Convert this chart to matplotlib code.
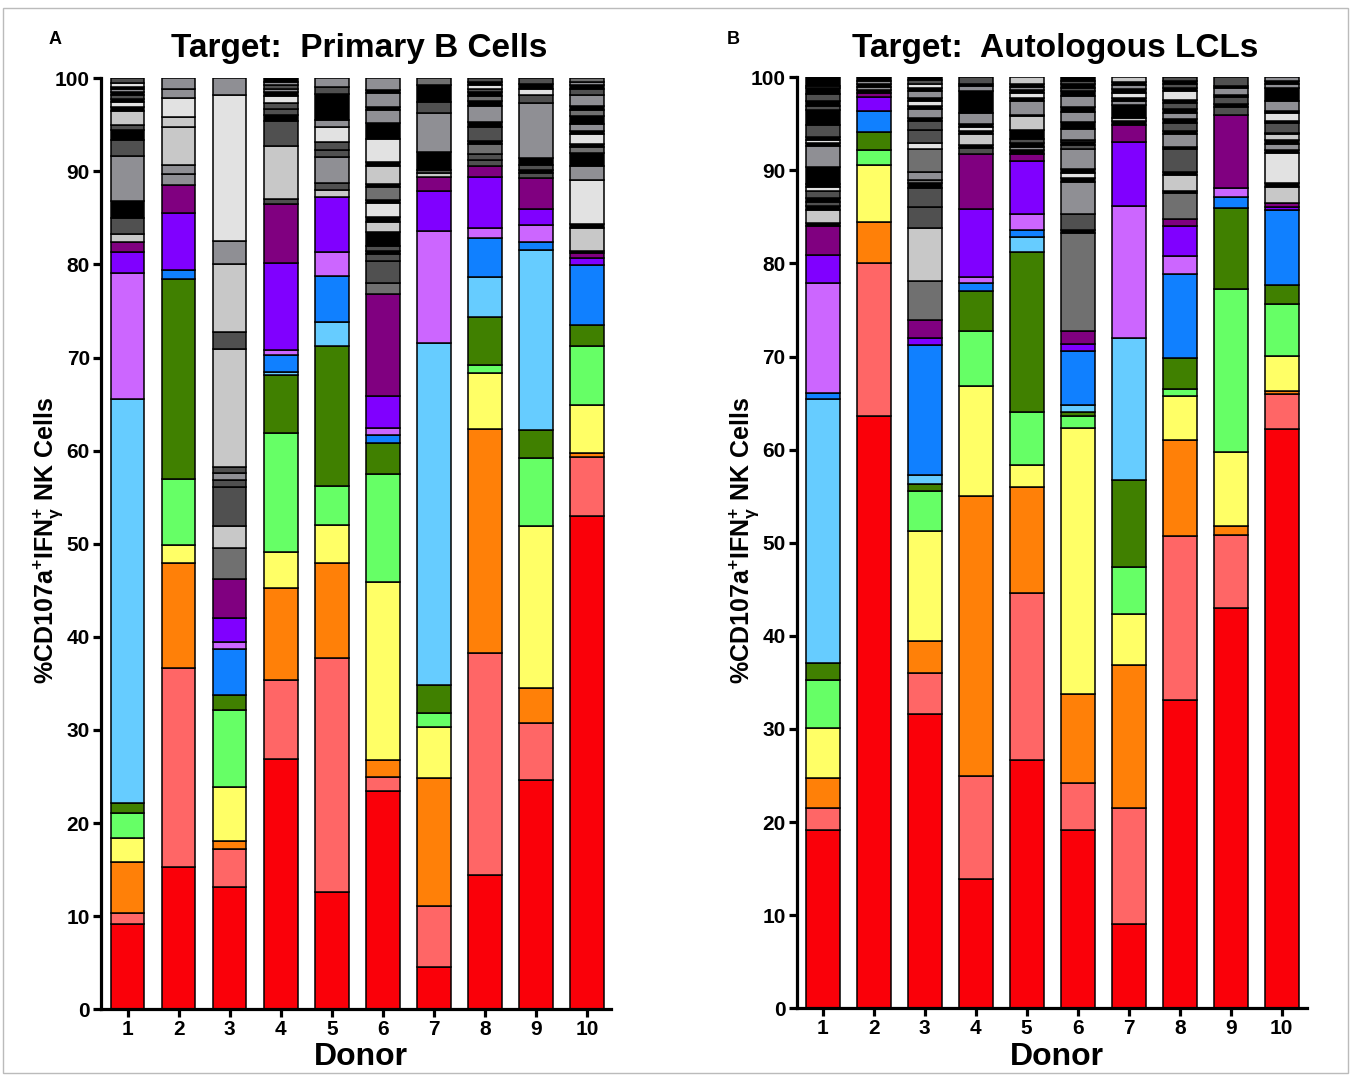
import matplotlib
matplotlib.use('Agg')
import matplotlib.pyplot as plt
import numpy as np

plt.rcParams['font.family'] = ['Liberation Sans', 'DejaVu Sans']
plt.rcParams['font.weight'] = 'bold'
plt.rcParams['mathtext.fontset'] = 'custom'
plt.rcParams['mathtext.rm'] = 'Liberation Sans:bold'
plt.rcParams['mathtext.bf'] = 'Liberation Sans:bold'
plt.rcParams['mathtext.it'] = 'Liberation Sans:bold'
plt.rcParams['mathtext.default'] = 'bf'

donors = np.arange(1, 11)

# colour of each clonal subset, bottom to top of a stack
subset_colors = ['#FA0009', '#FF6666', '#FF8008', '#FFFF66', '#66FF66', '#408000',
                 '#66CCFF', '#1080FF', '#CC66FF', '#8000FF', '#800080']
grey_colors = {'K': '#000000', 'D': '#505050', 'M': '#707070',
               'G': '#8F8F94', 'L': '#C8C8C8', 'W': '#E2E2E2'}

# ---- A: target primary B cells ----
pb_red = [9.2, 15.3, 13.15, 26.85, 12.6, 23.5, 4.5, 14.4, 24.6, 52.95]
pb_salmon = [1.1, 21.4, 4.1, 8.5, 25.1, 1.5, 6.55, 23.9, 6.2, 6.35]
pb_orange = [5.5, 11.2, 0.8, 9.85, 10.2, 1.8, 13.75, 24.0, 3.75, 0.4]
pb_yellow = [2.65, 1.95, 5.85, 3.95, 4.1, 19.1, 5.55, 6.0, 17.35, 5.2]
pb_lgreen = [2.65, 7.1, 8.2, 12.7, 4.2, 11.55, 1.5, 0.9, 7.35, 6.3]
pb_dgreen = [1.1, 21.45, 1.65, 6.25, 15.05, 3.35, 2.95, 5.2, 2.95, 2.35]
pb_lblue = [43.3, 0, 0, 0.3, 2.55, 0, 36.8, 4.3, 19.4, 0]
pb_blue = [0, 1.0, 4.95, 1.9, 5.0, 0.9, 0, 4.2, 0.8, 6.35]
pb_lilac = [13.6, 0, 0.75, 0.5, 2.55, 0.7, 12.0, 1.0, 1.85, 0]
pb_violet = [2.2, 6.1, 2.55, 9.4, 5.95, 3.5, 4.3, 5.5, 1.75, 0.8]
pb_purple = [1.1, 3.0, 4.2, 6.25, 0, 10.9, 1.5, 1.2, 3.25, 0.5]
# small clones (grey shades) on top of each bar
pb_grey = [
    "L0.9 D1.7 K1.85 G4.85 D1.7 K1.0 D0.6 L1.5 K0.4 W0.6 K0.3 D0.4 K0.3 G0.3 K0.3 W0.4 D0.5",
    "G1.2 G1.0 L4.1 L1.0 W2.1 G1.0 G1.1",
    "M3.3 L2.4 D4.2 D0.7 G0.8 D0.7 L12.6 D1.8 L7.35 G2.45 W15.7 G1.8",
    "D0.55 L5.7 D2.7 K0.65 D0.65 D0.6 W0.8 K0.4 G0.4 D0.4 G0.3 K0.4",
    "L0.7 D0.8 G2.7 D0.85 D0.85 W1.55 G0.75 K2.8 D0.75 G0.95",
    "M1.2 D2.4 D0.7 K0.4 D0.5 K1.5 L1.1 K0.5 W1.5 K0.3 M1.4 K0.3 L2.0 K0.4 W2.5 K1.7 G1.4 K0.3 G1.5 K0.3 G1.3",
    "L0.4 D0.4 K1.9 G4.2 D1.2 K1.8 M0.7",
    "D0.6 D0.7 M1.0 K0.4 D1.5 K0.5 G1.7 K0.6 M0.5 K0.4 D0.4 W0.4 K0.3 D0.4",
    "D0.55 K0.4 D0.5 K0.7 G6.0 D0.8 W0.6 K0.6 D0.6",
    "K0.3 L2.4 K0.5 W4.7 G1.5 K1.4 M0.6 K0.3 W1.1 K0.3 G0.8 K0.9 M0.6 K0.4 G1.2 D0.7 K0.4 G0.3 M0.4",
]

# ---- B: target autologous LCLs ----
lcl_red = [19.1, 63.6, 31.6, 13.9, 26.65, 19.1, 9.1, 33.1, 43.0, 62.2]
lcl_salmon = [2.4, 16.4, 4.4, 11.0, 18.0, 5.1, 12.4, 17.6, 7.85, 3.8]
lcl_orange = [3.2, 4.5, 3.45, 30.1, 11.3, 9.55, 15.4, 10.3, 0.95, 0.3]
lcl_yellow = [5.4, 6.1, 11.85, 11.8, 2.45, 28.6, 5.5, 4.8, 7.9, 3.8]
lcl_lgreen = [5.15, 1.6, 4.3, 5.9, 5.7, 1.25, 4.95, 0.7, 17.6, 5.6]
lcl_dgreen = [1.8, 1.9, 0.7, 4.35, 17.1, 0.4, 9.35, 3.3, 8.7, 2.0]
lcl_lblue = [28.35, 0, 1.0, 0, 1.6, 0.8, 15.25, 0, 0, 0]
lcl_blue = [0.7, 2.3, 13.9, 0.85, 0.8, 5.8, 0, 9.1, 1.1, 8.0]
lcl_lilac = [11.8, 0, 0, 0.7, 1.7, 0, 14.25, 1.9, 1.0, 0]
lcl_violet = [3.0, 1.5, 0.75, 7.3, 5.7, 0.75, 6.8, 3.2, 0, 0.4]
lcl_purple = [3.1, 0.4, 1.95, 5.9, 0.75, 1.35, 1.9, 0.75, 7.8, 0.35]
lcl_grey = [
    "K0.4 L1.3 K0.5 D0.4 K0.4 D0.8 W0.4 K0.3 K1.9 G2.2 K0.3 W0.4 K0.3 D1.3 K1.6 D0.4 K0.6 D0.7 K0.6 D0.3 K0.9",
    "K0.3 G0.4 K0.3 G0.3 K0.4",
    "M4.25 L5.7 D2.25 D2.0 K0.6 M0.3 G0.8 M2.5 W0.6 D1.4 D1.0 K0.3 G1.0 K0.3 W0.6 K0.3 G0.7 K0.4 W0.4 D0.4 K0.3",
    "D0.6 K0.3 L1.2 K0.3 W0.5 K0.3 G1.2 K2.35 G0.55 K0.2 D0.7",
    "K0.45 G0.35 K0.35 D0.5 K0.95 L1.45 K0.2 G1.5 K0.3 W0.55 K0.25 G0.4 K0.3 L0.7",
    "M10.6 K0.3 D1.7 G3.5 K0.4 W0.5 K0.4 G2.2 D0.4 K0.3 D0.3 G1.2 K0.7 G1.1 K0.5 G1.2 K0.5 D0.4 K0.4 D0.3 K0.4",
    "K0.4 L0.3 K1.4 G0.5 K0.3 W0.5 K0.4 G0.5 K0.3 L0.5",
    "M2.8 K0.25 L1.7 K0.3 D2.5 K0.2 G1.4 K0.3 D0.9 K0.4 G0.7 K0.4 D0.6 K0.4 W0.95 K0.35 D0.4 K0.3 D0.4",
    "D0.95 K0.25 D0.75 K0.25 G0.7 K0.3 D0.9",
    "L1.75 K0.4 W3.3 K0.3 G0.65 K0.45 L0.6 K0.1 D1.05 K0.25 W0.9 K0.2 G1.1 K1.3 G0.5 K0.3 G0.4",
]

pb_series = [pb_red, pb_salmon, pb_orange, pb_yellow, pb_lgreen, pb_dgreen,
             pb_lblue, pb_blue, pb_lilac, pb_violet, pb_purple]
lcl_series = [lcl_red, lcl_salmon, lcl_orange, lcl_yellow, lcl_lgreen, lcl_dgreen,
              lcl_lblue, lcl_blue, lcl_lilac, lcl_violet, lcl_purple]

W, H = 1351, 1076
fig = plt.figure(figsize=(W / 100, H / 100), dpi=100)

BAR_W = 0.66
EDGE = 1.1


def draw_panel(ax, series, greys):
    bottom = np.zeros(len(donors))
    for vals, col in zip(series, subset_colors):
        vals = np.array(vals, dtype=float)
        m = vals > 0
        ax.bar(donors[m], vals[m], bottom=bottom[m], width=BAR_W, color=col,
               edgecolor='black', linewidth=EDGE, zorder=2)
        bottom += vals
    for i, g in enumerate(greys):
        b = bottom[i]
        for tok in g.split():
            h = float(tok[1:])
            ax.bar(donors[i], h, bottom=b, width=BAR_W, color=grey_colors[tok[0]],
                   edgecolor='black', linewidth=EDGE, zorder=2)
            b += h
    ax.set_ylim(0, 100)
    ax.set_yticks(np.arange(0, 101, 10))
    ax.set_xticks(donors)
    ax.spines['top'].set_visible(False)
    ax.spines['right'].set_visible(False)
    for s in ['left', 'bottom']:
        ax.spines[s].set_linewidth(2.3)
    ax.tick_params(axis='both', width=2.3, length=6, labelsize=15, pad=2)
    for lab in ax.get_xticklabels() + ax.get_yticklabels():
        lab.set_fontweight('bold')


axA = fig.add_axes([101 / W, 1 - 1009.3 / H, (611 - 101) / W, (1009.3 - 78.3) / H])
axA.set_xlim(0.48, 10.47)
draw_panel(axA, pb_series, pb_grey)

axB = fig.add_axes([796.7 / W, 1 - 1008.3 / H, (1306.7 - 796.7) / W, (1008.3 - 77.3) / H])
axB.set_xlim(0.49, 10.49)
draw_panel(axB, lcl_series, lcl_grey)

ylab = r'%CD107a$^{+}$IFN$_{\gamma}^{+}$ NK Cells'
fig.text(48 / W, 1 - 540 / H, ylab, rotation=90, ha='center', va='center',
         fontsize=18, fontweight='bold')
fig.text(744 / W, 1 - 540 / H, ylab, rotation=90, ha='center', va='center',
         fontsize=18, fontweight='bold')

fig.text(359 / W, 1 - 48 / H, 'Target:  Primary B Cells', ha='center', va='center',
         fontsize=24, fontweight='bold')
fig.text(1055 / W, 1 - 48 / H, 'Target:  Autologous LCLs', ha='center', va='center',
         fontsize=24, fontweight='bold')

fig.text(361 / W, 1 - 1057 / H, 'Donor', ha='center', va='center', fontsize=23, fontweight='bold')
fig.text(1057 / W, 1 - 1057 / H, 'Donor', ha='center', va='center', fontsize=23, fontweight='bold')

fig.text(55 / W, 1 - 40 / H, 'A', ha='center', va='center', fontsize=13, fontweight='bold')
fig.text(733 / W, 1 - 40 / H, 'B', ha='center', va='center', fontsize=13, fontweight='bold')

frame = plt.Rectangle((3 / W, 3 / H), 1 - 6 / W, 1 - 11 / H, transform=fig.transFigure,
                      fill=False, edgecolor='#BBBBBB', linewidth=1)
fig.patches.append(frame)

fig.savefig('out.png', dpi=100)
